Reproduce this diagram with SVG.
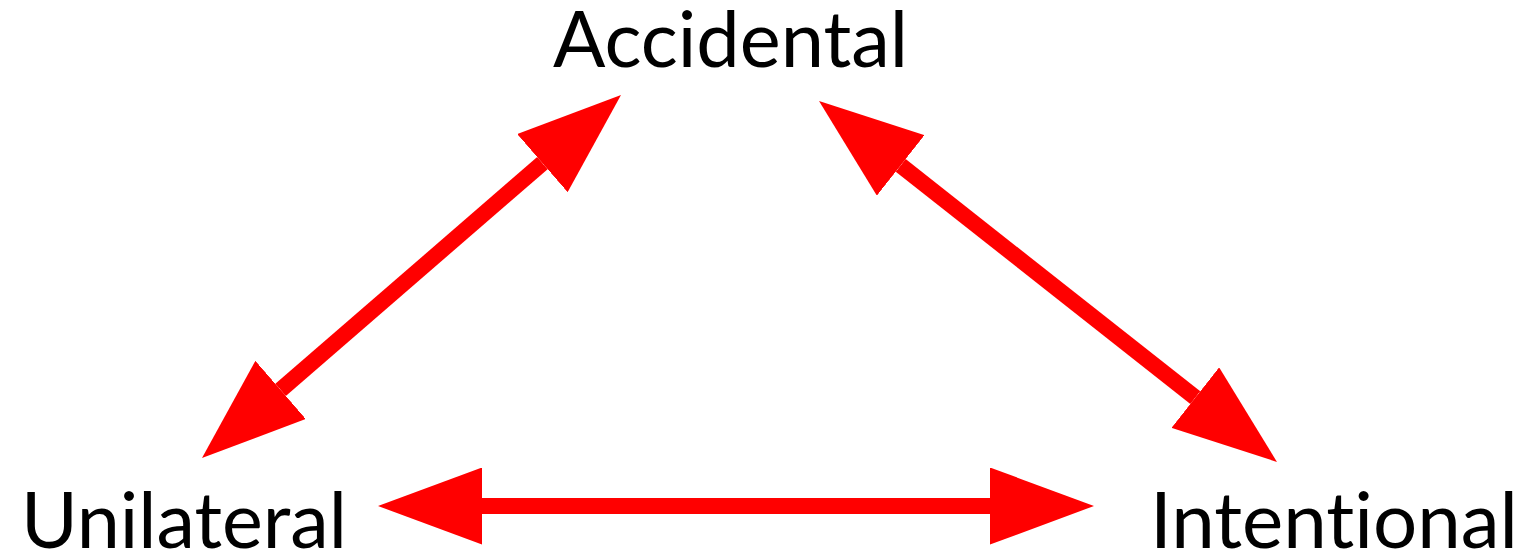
<svg xmlns="http://www.w3.org/2000/svg" width="1527" height="554" viewBox="0 0 1527 554">
  <style>
    .label { font-family: "Lato", "Open Sans", "Liberation Sans", sans-serif; font-size: 78px; fill: #000000; font-variant-ligatures: none; font-feature-settings: "liga" 0, "clig" 0; }
    .conn { stroke: #ff0000; stroke-width: 16; fill: none; stroke-linecap: butt; }
  </style>
  <defs>
    <marker id="head" viewBox="0 0 104 77" refX="0" refY="38.5" markerUnits="userSpaceOnUse" markerWidth="104" markerHeight="77" orient="auto-start-reverse">
      <path d="M0,0 L104,38.5 L0,77 Z" fill="#ff0000"/>
    </marker>
  </defs>
  <rect width="1527" height="554" fill="#ffffff"/>
  <g id="connectors">
    <line class="conn" x1="280.6" y1="389.9" x2="542.4" y2="163.1" marker-start="url(#head)" marker-end="url(#head)"/>
    <line class="conn" x1="900.7" y1="165.4" x2="1195.3" y2="397.6" marker-start="url(#head)" marker-end="url(#head)"/>
    <line class="conn" x1="482" y1="506" x2="990" y2="506" marker-start="url(#head)" marker-end="url(#head)"/>
  </g>
  <g id="node-accidental">
    <text class="label" x="553" y="67" textLength="355" lengthAdjust="spacingAndGlyphs">Accidental</text>
  </g>
  <g id="node-unilateral">
    <text class="label" x="21" y="548" textLength="326" lengthAdjust="spacingAndGlyphs">Unilateral</text>
  </g>
  <g id="node-intentional">
    <text class="label" x="1150" y="548" textLength="368" lengthAdjust="spacingAndGlyphs">Intentional</text>
  </g>
</svg>
